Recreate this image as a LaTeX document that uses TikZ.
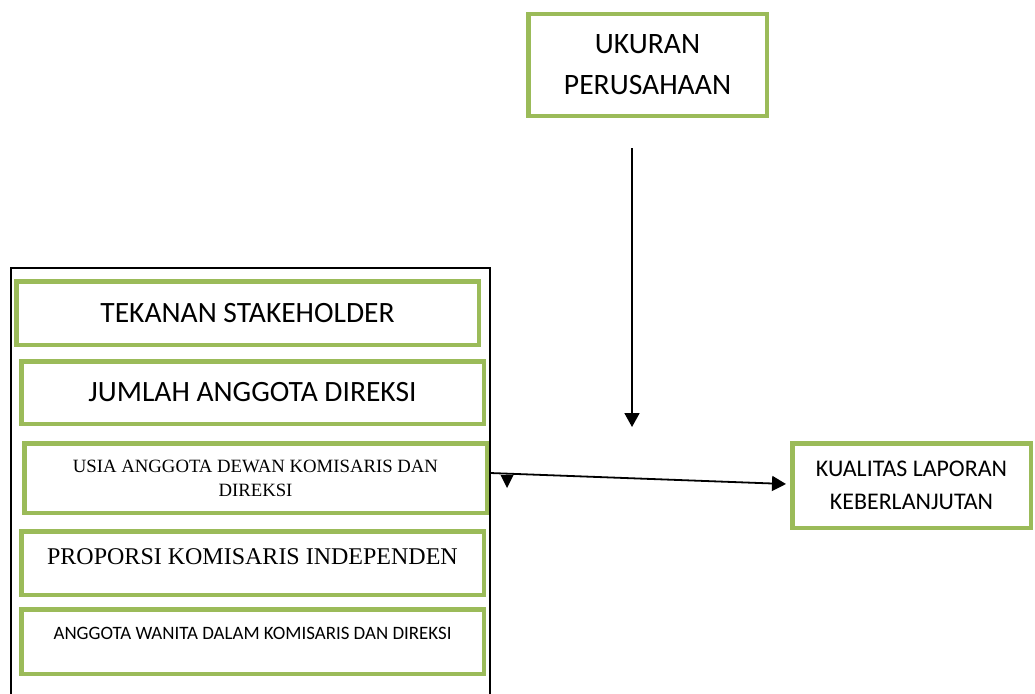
\documentclass[tikz,border=0pt]{standalone}
\usepackage{fontspec}
\setmainfont{Carlito}
\newfontfamily\cbr{Carlito}
\newfontfamily\tnr{Liberation Serif}
\usetikzlibrary{arrows.meta,calc}
\definecolor{ogreen}{HTML}{9BBB59}
\tikzset{
  gbox/.style={draw=ogreen, line width=4.5pt, fill=white, inner sep=0pt, align=center},
  conn/.style={line width=1.8pt, -{Triangle[width=15pt,length=14pt]}},
}
\begin{document}
\begin{tikzpicture}[x=1pt,y=-1pt]
\useasboundingbox[fill=white] (0,0) rectangle (1035,693);
% outer container
\node (group) [draw=black, line width=1.5pt, inner sep=0pt, minimum width=479pt, minimum height=440pt] at (250.25,488) {};
% left stack
\node (tek) [gbox, minimum width=462.5pt, minimum height=63.5pt, font=\cbr\fontsize{29.5}{35}\selectfont] at (247.5,313)
  {TEKANAN STAKEHOLDER};
\node (jum) [gbox, minimum width=462.5pt, minimum height=62.5pt, font=\cbr\fontsize{29.5}{35}\selectfont] at (252.5,392.5)
  {JUMLAH ANGGOTA DIREKSI};
\node (usia) [gbox, minimum width=462.5pt, minimum height=69.5pt, font=\tnr\fontsize{18.75}{24}\selectfont] at (255.5,478)
  {USIA ANGGOTA DEWAN KOMISARIS DAN\\DIREKSI};
\node (prop) [gbox, minimum width=462.5pt, minimum height=63.5pt, text depth=12pt, font=\tnr\fontsize{24}{29}\selectfont] at (252.5,563)
  {PROPORSI KOMISARIS INDEPENDEN};
\node (ang) [gbox, minimum width=462.5pt, minimum height=64.5pt, text depth=17pt, font=\cbr\fontsize{18.9}{23}\selectfont] at (252.5,641.5)
  {ANGGOTA WANITA DALAM KOMISARIS DAN DIREKSI};
% right boxes
\node (uku) [gbox, minimum width=238.5pt, minimum height=101.5pt, font=\cbr\fontsize{29.6}{41}\selectfont] at (647.5,65)
  {UKURAN\\PERUSAHAAN};
\node (kual) [gbox, minimum width=238.5pt, minimum height=84.5pt, font=\cbr\fontsize{23.9}{33}\selectfont] at (911.5,485.5)
  {KUALITAS LAPORAN\\KEBERLANJUTAN};
% connectors
\coordinate (vtop) at (632,148);
\coordinate (vend) at (632,427);
\draw[conn] (vtop) -- (vend);
\coordinate (hstart) at (490,473);
\draw[conn] (hstart) -- ($(kual.west)+(-4,-1.5)$);
% stray arrowhead
\fill (500.5,475) -- (513.5,475) -- (507,488) -- cycle;
\end{tikzpicture}
\end{document}
